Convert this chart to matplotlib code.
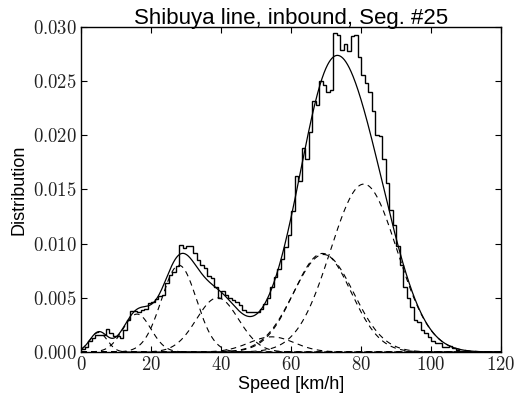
import numpy as np
import matplotlib
matplotlib.use("Agg")
import matplotlib.pyplot as plt

plt.rcParams['mathtext.fontset'] = 'cm'
plt.rcParams['font.family'] = ['Liberation Sans', 'DejaVu Sans']

# ---- data ----
hist_values = [
    0.0003, 0.0005, 0.0010, 0.0013, 0.0016, 0.0016, 0.0016, 0.0021, 0.0018, 0.0015,   # 0-9
    0.0015, 0.0013, 0.0020, 0.0030, 0.0038, 0.0038, 0.0037, 0.0039, 0.0040, 0.0045,   # 10-19
    0.0046, 0.0049, 0.0052, 0.0053, 0.0064, 0.0071, 0.0074, 0.0079, 0.0099, 0.0096,   # 20-29
    0.0098, 0.0098, 0.0091, 0.0085, 0.0080, 0.0078, 0.0070, 0.0068, 0.0060, 0.0050,   # 30-39
    0.0056, 0.0053, 0.0050, 0.0048, 0.0046, 0.0043, 0.0039, 0.0037, 0.0037, 0.0037,   # 40-49
    0.0037, 0.0040, 0.0044, 0.0050, 0.0060, 0.0069, 0.0077, 0.0086, 0.0097, 0.0108,   # 50-59
    0.0130, 0.0162, 0.0158, 0.0188, 0.0178, 0.0203, 0.0232, 0.0228, 0.0250, 0.0246,   # 60-69
    0.0240, 0.0242, 0.0294, 0.0293, 0.0279, 0.0284, 0.0278, 0.0292, 0.0293, 0.0272,   # 70-79
    0.0256, 0.0248, 0.0240, 0.0222, 0.0200, 0.0199, 0.0178, 0.0156, 0.0131, 0.0117,   # 80-89
    0.0098, 0.0080, 0.0060, 0.0050, 0.0042, 0.0030, 0.0028, 0.0020, 0.0018, 0.0014,   # 90-99
    0.0010, 0.0008, 0.0008, 0.0005, 0.0005, 0.0006, 0.0004, 0.0002, 0.0001, 0.0001,   # 100-109
]
bin_edges = np.arange(0, len(hist_values) + 1)

# Gaussian mixture components (peak height, mean, sigma)
comp_means = [5.0, 16.0, 28.0, 39.0, 54.5, 69.0, 69.3, 80.8]
comp_sigmas = [2.5, 4.0, 5.0, 6.0, 6.5, 8.2, 8.6, 9.5]
comp_heights = [0.0018, 0.0035, 0.0080, 0.0050, 0.0014, 0.0091, 0.0090, 0.0155]

xticks = [0, 20, 40, 60, 80, 100, 120]
yticks = [0.000, 0.005, 0.010, 0.015, 0.020, 0.025, 0.030]
ytick_labels = ["0.000", "0.005", "0.010", "0.015", "0.020", "0.025", "0.030"]

# ---- figure ----
fig = plt.figure(figsize=(5.19, 4.01), dpi=100)
ax = fig.add_axes([81/519, 1 - 352/401, 420/519, 325/401])

speed = np.linspace(0, 120, 1200)
total = np.zeros_like(speed)
for h, m, s in zip(comp_heights, comp_means, comp_sigmas):
    comp = h * np.exp(-(speed - m) ** 2 / (2 * s ** 2))
    total += comp
    ax.plot(speed, comp, color='black', lw=0.8, ls=(0, (5, 4)))

ax.stairs(hist_values, bin_edges, color='black', lw=1.0, baseline=None)
ax.plot(speed, total, color='black', lw=0.9)

ax.set_xlim(0, 120)
ax.set_ylim(0, 0.030)
ax.set_xticks(xticks)
ax.set_xticklabels([f"${t}$" for t in xticks])
ax.set_yticks(yticks)
ax.set_yticklabels([f"${t}$" for t in ytick_labels])
ax.tick_params(direction='in', top=True, right=True, length=4, width=0.8,
               labelsize=13.5, pad=3, labelcolor='#222222')
for sp in ax.spines.values():
    sp.set_linewidth(1.0)

ax.set_title("Shibuya line, inbound, Seg. #25", fontsize=16, pad=2)
ax.set_xlabel("Speed [km/h]", fontsize=13, labelpad=1)
ax.set_ylabel("Distribution", fontsize=13, labelpad=4)

fig.savefig("out.png", dpi=100)
